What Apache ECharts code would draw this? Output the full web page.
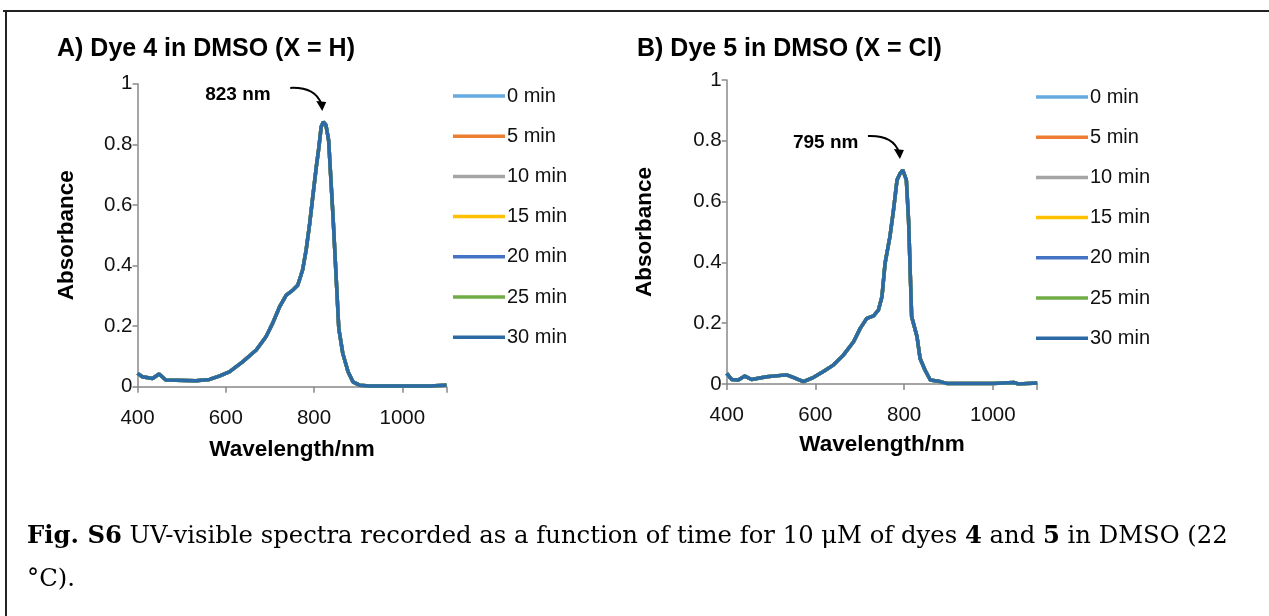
<!DOCTYPE html>
<html>
<head>
<meta charset="utf-8">
<script src="https://cdn.jsdelivr.net/npm/echarts@6/dist/echarts.min.js"></script>
<style>
html,body{margin:0;padding:0;background:#fff;}
#chart{width:1269px;height:616px;}
</style>
</head>
<body>
<div id="chart"></div>
<script>
// ---- data ----
var seriesNames = ['0 min', '5 min', '10 min', '15 min', '20 min', '25 min', '30 min'];
var wavelengthA = [400, 411, 434, 449, 464, 532, 563, 585, 608, 638, 669, 691, 706, 722, 737, 752, 763, 774, 782, 790, 797, 805, 811, 816, 821, 827, 833, 843, 856, 865, 877, 888, 903, 926, 1062, 1096, 1100];
var absA = [0.044, 0.033, 0.027, 0.042, 0.022, 0.020, 0.024, 0.035, 0.049, 0.082, 0.121, 0.165, 0.209, 0.264, 0.302, 0.319, 0.335, 0.385, 0.451, 0.538, 0.626, 0.725, 0.791, 0.857, 0.874, 0.863, 0.813, 0.560, 0.192, 0.110, 0.049, 0.016, 0.005, 0.002, 0.002, 0.005, 0.005];
var wavelengthB = [400, 411, 426, 441, 456, 490, 535, 550, 573, 596, 618, 641, 663, 686, 701, 716, 731, 742, 750, 757, 768, 776, 784, 791, 797, 805, 810, 817, 829, 836, 847, 859, 881, 896, 1000, 1047, 1058, 1100];
var absB = [0.035, 0.015, 0.013, 0.026, 0.015, 0.024, 0.030, 0.022, 0.008, 0.022, 0.041, 0.063, 0.095, 0.139, 0.183, 0.216, 0.224, 0.243, 0.287, 0.397, 0.485, 0.572, 0.671, 0.693, 0.704, 0.671, 0.539, 0.221, 0.156, 0.084, 0.046, 0.013, 0.008, 0.002, 0.002, 0.005, 0.000, 0.003];
var xTicks = [400, 600, 800, 1000];
var peakA = [823, 0.874];
var peakB = [795, 0.704];

// ---- styles ----
var palette = ['#66aadf', '#ed7d31', '#a5a5a5', '#ffc000', '#4472c4', '#70ad47', '#2c6aa5'];
var axisColor = '#888888';
var sansFont = '"Liberation Sans", Arial, sans-serif';

function pairs(xs, ys) {
  return xs.map(function (x, i) { return [x, ys[i]]; });
}

function makeX(gridIndex, gap) {
  return {
    type: 'value', gridIndex: gridIndex, min: 400, max: 1100, interval: 200,
    name: 'Wavelength/nm', nameLocation: 'middle', nameGap: gap,
    nameTextStyle: {fontFamily: sansFont, fontSize: 22.5, fontWeight: 'bold', color: '#000'},
    axisLine: {show: true, lineStyle: {color: axisColor, width: 1.5}},
    axisTick: {show: true, length: 6, lineStyle: {color: axisColor, width: 1.5}},
    axisLabel: {fontFamily: sansFont, fontSize: 20.5, color: '#111', margin: 21,
      formatter: function (v) { return xTicks.indexOf(v) >= 0 ? String(v) : ''; }},
    splitLine: {show: false}
  };
}
function makeY(gridIndex, gap) {
  return {
    type: 'value', gridIndex: gridIndex, min: 0, max: 1, interval: 0.2,
    name: 'Absorbance', nameLocation: 'middle', nameGap: gap, nameRotate: 90,
    nameTextStyle: {fontFamily: sansFont, fontSize: 22.5, fontWeight: 'bold', color: '#000'},
    axisLine: {show: true, lineStyle: {color: axisColor, width: 1.5}},
    axisTick: {show: true, length: 5, lineStyle: {color: axisColor, width: 1.5}},
    axisLabel: {fontFamily: sansFont, fontSize: 20.5, color: '#111', margin: 5,
      formatter: function (v) { return String(Math.round(v * 10) / 10); }},
    splitLine: {show: false}
  };
}

var series = [];
[pairs(wavelengthA, absA), pairs(wavelengthB, absB)].forEach(function (d, gi) {
  seriesNames.forEach(function (n, i) {
    series.push({
      type: 'line', name: n, xAxisIndex: gi, yAxisIndex: gi, data: d,
      showSymbol: false, symbol: 'none', color: palette[i],
      lineStyle: {width: 3.5, color: palette[i]}, z: 2 + i
    });
  });
});

function makeLegend(left, top) {
  return {
    orient: 'vertical', left: left, top: top, padding: 0, data: seriesNames,
    icon: 'rect', itemWidth: 52, itemHeight: 3.5, itemGap: 20.2,
    selectedMode: false,
    textStyle: {fontFamily: sansFont, fontSize: 20, color: '#111', padding: [0, 0, 0, -3], lineHeight: 20}
  };
}

var chart = echarts.init(document.getElementById('chart'), null, {renderer: 'canvas'});
var option = {
  animation: false,
  backgroundColor: '#fff',
  title: [
    {text: 'A) Dye 4 in DMSO (X = H)', left: 57, top: 37, padding: 0,
      textStyle: {fontFamily: sansFont, fontSize: 25, fontWeight: 'bold', color: '#000'}},
    {text: 'B) Dye 5 in DMSO (X = Cl)', left: 637, top: 37, padding: 0,
      textStyle: {fontFamily: sansFont, fontSize: 25, fontWeight: 'bold', color: '#000'}}
  ],
  legend: [makeLegend(453, 86), makeLegend(1036, 87)],
  grid: [
    {left: 137.5, top: 83.7, width: 309, height: 303, containLabel: false},
    {left: 726.7, top: 80, width: 310.5, height: 304, containLabel: false}
  ],
  xAxis: [makeX(0, 52), makeX(1, 49)],
  yAxis: [makeY(0, 59), makeY(1, 70)],
  series: series
};
chart.setOption(option);

// annotations anchored to peak positions
function arrowGroup(peak, gi, label, labelDx) {
  var p = chart.convertToPixel({gridIndex: gi}, peak);
  var tx = p[0] - 3, ty = p[1] - 14;
  var sx = p[0] - 34, sy = p[1] - 34;
  return [
    {type: 'text', x: sx + labelDx, y: sy + 7,
      style: {text: label, font: 'bold 19px ' + sansFont, fill: '#000', textVerticalAlign: 'middle'}},
    {type: 'bezierCurve', shape: {x1: sx, y1: sy, cpx1: tx - 6, cpy1: sy - 1, x2: tx, y2: ty - 4},
      style: {stroke: '#000', lineWidth: 2, fill: null}},
    {type: 'polygon', shape: {points: [[tx - 5, ty - 7], [tx + 5, ty - 6], [tx + 1, ty + 3]]},
      style: {fill: '#000'}}
  ];
}

var graphics = [
  {type: 'line', shape: {x1: 3, y1: 11, x2: 1269, y2: 11}, style: {stroke: '#222', lineWidth: 2}},
  {type: 'line', shape: {x1: 6, y1: 10, x2: 6, y2: 616}, style: {stroke: '#222', lineWidth: 2}},
  {type: 'text', x: 27, y: 537,
    style: {text: '{b|Fig. S6} UV-visible spectra recorded as a function of time for 10 μM of dyes {b|4} and {b|5} in DMSO (22',
      font: '24.3px "DejaVu Serif", serif', fill: '#000', textVerticalAlign: 'middle',
      rich: {b: {fontWeight: 'bold', fontFamily: '"DejaVu Serif", serif', fontSize: 24.3}}}},
  {type: 'text', x: 27, y: 580,
    style: {text: '°C).', font: '24.3px "DejaVu Serif", serif', fill: '#000', textVerticalAlign: 'middle'}}
];
graphics = graphics.concat(arrowGroup(peakA, 0, '823 nm', -85)).concat(arrowGroup(peakB, 1, '795 nm', -75));
chart.setOption({graphic: graphics});
</script>
</body>
</html>
